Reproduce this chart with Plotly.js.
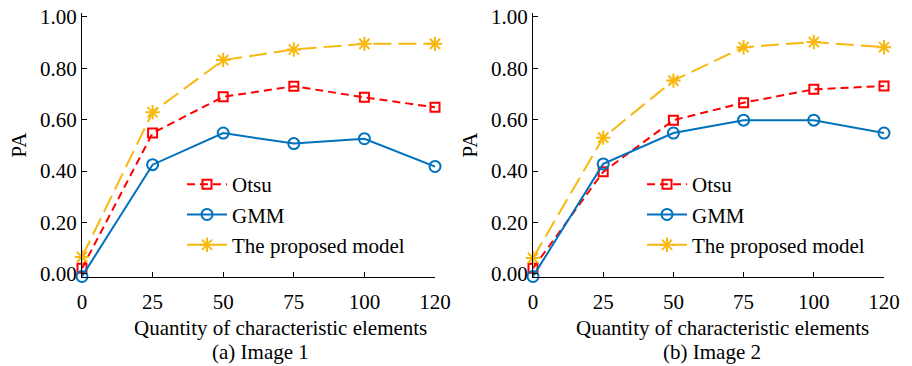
<!DOCTYPE html>
<html>
<head>
<meta charset="utf-8">
<script src="https://cdn.plot.ly/plotly-3.0.1.min.js"></script>
<style>html,body{margin:0;padding:0;background:#fff;}#chart{width:912px;height:366px;}</style>
</head>
<body>
<div id="chart"></div>
<script>
// Data
const xLabels = ["0", "25", "50", "75", "100", "120"];
const seriesNames = ["Otsu", "GMM", "The proposed model"];
// Image 1
const otsu1 = [0.022, 0.548, 0.689, 0.730, 0.687, 0.648];
const gmm1 = [-0.010, 0.425, 0.548, 0.507, 0.526, 0.418];
const proposed1 = [0.066, 0.629, 0.832, 0.873, 0.895, 0.895];
// Image 2
const otsu2 = [0.022, 0.397, 0.598, 0.666, 0.718, 0.731];
const gmm2 = [-0.010, 0.428, 0.548, 0.598, 0.598, 0.548];
const proposed2 = [0.062, 0.530, 0.752, 0.882, 0.902, 0.882];
const subtitles = ["(a) Image 1", "(b) Image 2"];
const xTitle = "Quantity of characteristic elements";
const yTitle = "PA";

const xIdx = xLabels.map((_, i) => i);
const FONT = "Liberation Serif";
const styles = [
  {color: "#FF0000", dash: "8px,5px", symbol: "square-open", size: 9},
  {color: "#0072BD", dash: "solid", symbol: "circle-open", size: 11},
  {color: "#F7B90F", dash: "18px,7px", symbol: "asterisk-open", size: 12}
];

function mk(y, k, xa, ya, leg) {
  const s = styles[k];
  return {
    x: xIdx, y: y, type: "scatter", mode: "lines+markers",
    name: seriesNames[k], xaxis: xa, yaxis: ya, legend: leg,
    cliponaxis: false,
    line: {color: s.color, width: 2, dash: s.dash},
    marker: {symbol: s.symbol, size: s.size, color: s.color, line: {color: s.color, width: 2}}
  };
}

const traces = [
  mk(otsu1, 0, "x", "y", "legend"),
  mk(gmm1, 1, "x", "y", "legend"),
  mk(proposed1, 2, "x", "y", "legend"),
  mk(otsu2, 0, "x2", "y2", "legend2"),
  mk(gmm2, 1, "x2", "y2", "legend2"),
  mk(proposed2, 2, "x2", "y2", "legend2")
];

function xax(domain, anchor) {
  return {
    domain: domain, anchor: anchor, range: [0, 5],
    tickmode: "array", tickvals: xIdx, ticktext: xLabels,
    ticks: "inside", ticklen: 5, tickwidth: 1, tickcolor: "#000",
    ticklabelstandoff: 6,
    showline: true, linecolor: "#000", linewidth: 1,
    showgrid: false, zeroline: false,
    tickfont: {family: FONT, size: 21, color: "#000"}
  };
}
function yax(anchor) {
  return {
    domain: [0, 1], anchor: anchor, range: [-0.012, 1.015],
    tickmode: "array", tickvals: [0, 0.2, 0.4, 0.6, 0.8, 1.0],
    ticktext: ["0.00", "0.20", "0.40", "0.60", "0.80", "1.00"],
    ticks: "inside", ticklen: 5, tickwidth: 1, tickcolor: "#000",
    showline: true, linecolor: "#000", linewidth: 1,
    showgrid: false, zeroline: false,
    tickfont: {family: FONT, size: 21, color: "#000"},
    title: {text: yTitle, font: {family: FONT, size: 21, color: "#000"}, standoff: 7}
  };
}

const legendBase = {
  font: {family: FONT, size: 21, color: "#000"},
  bgcolor: "rgba(0,0,0,0)", borderwidth: 0,
  xanchor: "left", yanchor: "top", tracegroupgap: 0, itemwidth: 40
};

// paper y for a pixel row (plot area spans pixel 13..277)
const py = p => (277 - p) / 264;

const layout = {
  width: 912, height: 366,
  margin: {l: 0, r: 0, t: 13, b: 89},
  paper_bgcolor: "#fff", plot_bgcolor: "#fff",
  font: {family: FONT, size: 21, color: "#000"},
  xaxis: xax([82/912, 435/912], "y"),
  yaxis: yax("x"),
  xaxis2: xax([533/912, 884/912], "y2"),
  yaxis2: yax("x2"),
  legend: Object.assign({}, legendBase, {x: 182/912, y: py(164)}),
  legend2: Object.assign({}, legendBase, {x: 642/912, y: py(164)}),
  annotations: [
    {text: xTitle, xref: "paper", yref: "paper", x: 280/912, y: py(328), showarrow: false, xanchor: "center", yanchor: "middle", font: {family: FONT, size: 21, color: "#000"}},
    {text: subtitles[0], xref: "paper", yref: "paper", x: 260/912, y: py(352), showarrow: false, xanchor: "center", yanchor: "middle", font: {family: FONT, size: 21, color: "#000"}},
    {text: xTitle, xref: "paper", yref: "paper", x: 722/912, y: py(328), showarrow: false, xanchor: "center", yanchor: "middle", font: {family: FONT, size: 21, color: "#000"}},
    {text: subtitles[1], xref: "paper", yref: "paper", x: 712/912, y: py(352), showarrow: false, xanchor: "center", yanchor: "middle", font: {family: FONT, size: 21, color: "#000"}}
  ],
  showlegend: true
};

Plotly.newPlot("chart", traces, layout, {staticPlot: true, displayModeBar: false});
</script>
</body>
</html>
